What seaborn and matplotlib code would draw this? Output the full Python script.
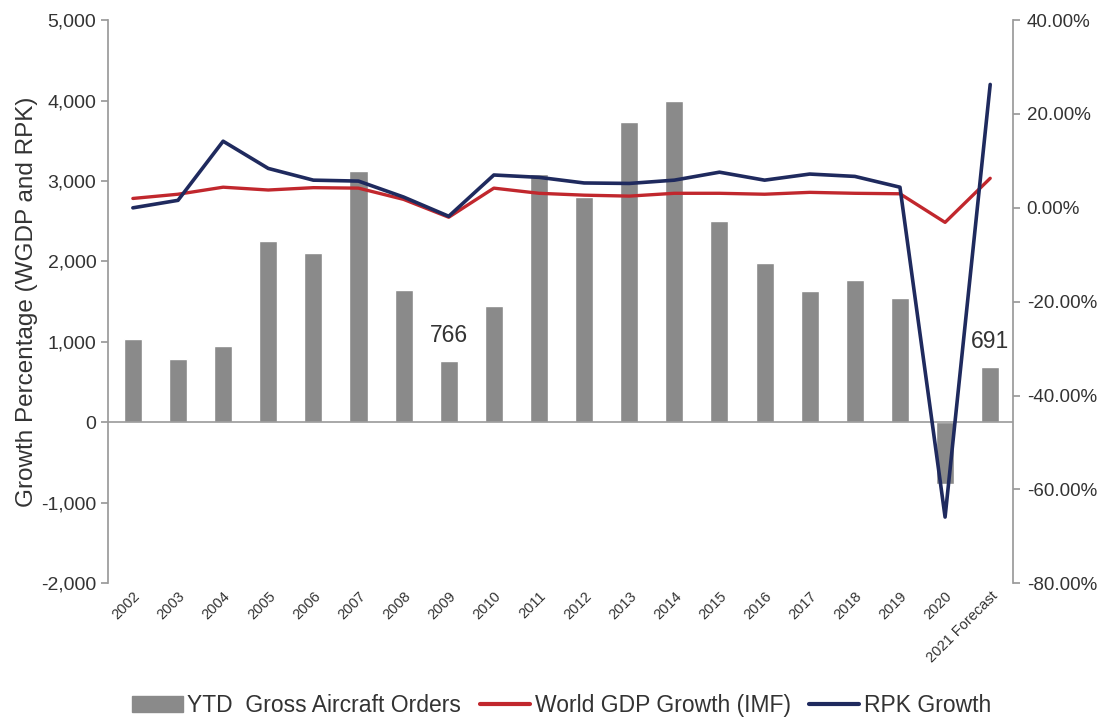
import numpy as np
import pandas as pd
import seaborn as sns
import matplotlib.pyplot as plt
from matplotlib.patches import Patch
from matplotlib.lines import Line2D
from matplotlib.ticker import FuncFormatter, StrMethodFormatter

years = ['2002', '2003', '2004', '2005', '2006', '2007', '2008', '2009', '2010', '2011',
         '2012', '2013', '2014', '2015', '2016', '2017', '2018', '2019', '2020', '2021 Forecast']
orders = [1040, 790, 950, 2260, 2110, 3120, 1640, 766, 1450, 3090,
          2800, 3740, 3990, 2500, 1980, 1630, 1770, 1550, -770, 691]
gdp_growth = [2.0, 2.9, 4.4, 3.8, 4.3, 4.2, 1.8, -2.0, 4.2, 3.1,
              2.7, 2.5, 3.1, 3.1, 2.9, 3.3, 3.1, 3.0, -3.1, 6.3]
rpk_growth = [0.0, 1.6, 14.2, 8.4, 5.9, 5.7, 2.3, -1.8, 7.0, 6.5,
              5.3, 5.2, 5.9, 7.6, 5.9, 7.2, 6.7, 4.4, -65.9, 26.3]
labelled = {'2009': '766', '2021 Forecast': '691'}

sns.set_theme(style="white")
plt.rcParams['font.family'] = ['Liberation Sans', 'DejaVu Sans']
plt.rcParams['axes.unicode_minus'] = False

bar_color = '#8a8a8a'
gdp_color = '#c1272d'
rpk_color = '#1f2a5e'
axis_color = '#9a9a9a'
text_color = '#333333'

df = pd.DataFrame({'year': years, 'orders': orders,
                   'gdp': gdp_growth, 'rpk': rpk_growth})
df['pos'] = np.arange(len(df))

fig = plt.figure(figsize=(11.06, 7.2), dpi=100)
ax = fig.add_axes([0.0977, 0.19, 0.818, 0.782])

sns.barplot(data=df, x='year', y='orders', color=bar_color, width=0.4,
            saturation=1, ax=ax)
ax.set_ylim(-2000, 5000)
ax.set_xlim(-0.55, len(years) - 0.5)
ax.yaxis.set_major_formatter(StrMethodFormatter('{x:,.0f}'))
ax.axhline(0, color=axis_color, lw=1.2, zorder=1)
ax.set_xlabel('')
ax.set_ylabel('Growth Percentage (WGDP and RPK)', fontsize=17.5, color=text_color,
              labelpad=2)
ax.set_xticks(df['pos'])
ax.set_xticklabels(years, rotation=45, ha='right', rotation_mode='anchor',
                   fontsize=10.5, color=text_color)
ax.tick_params(axis='x', length=0, pad=4)
ax.tick_params(axis='y', labelsize=14, labelcolor=text_color, length=5,
               color=axis_color, left=True)

for name, txt in labelled.items():
    i = years.index(name)
    ax.text(i, orders[i] + 170, txt, ha='center', va='bottom', fontsize=16.5,
            color=text_color)

ax2 = ax.twinx()
sns.lineplot(data=df, x='pos', y='gdp', color=gdp_color, lw=2.4, ax=ax2)
sns.lineplot(data=df, x='pos', y='rpk', color=rpk_color, lw=2.6, ax=ax2)
ax2.set_ylim(-80, 40)
ax2.set_yticks(np.arange(-80, 41, 20))
ax2.yaxis.set_major_formatter(FuncFormatter(lambda v, p: f'{v:.2f}%'))
ax2.set_ylabel('')
ax2.tick_params(axis='y', labelsize=13.5, labelcolor=text_color, length=5,
                color=axis_color, right=True, pad=5)

for a in (ax, ax2):
    for side in ('top', 'bottom'):
        a.spines[side].set_visible(False)
    a.spines['left'].set_color(axis_color)
    a.spines['right'].set_color(axis_color)
ax.spines['right'].set_visible(False)
ax2.spines['left'].set_visible(False)

handles = [Patch(color=bar_color),
           Line2D([], [], color=gdp_color, lw=3),
           Line2D([], [], color=rpk_color, lw=3)]
names = ['YTD  Gross Aircraft Orders', 'World GDP Growth (IMF)', 'RPK Growth']
fig.legend(handles, names, loc='center', bbox_to_anchor=(0.508, 0.02), ncol=3,
           frameon=False, fontsize=16.5, handlelength=2.2, handletextpad=0.2,
           columnspacing=0.8, labelcolor=text_color)

fig.savefig('out.png', dpi=100)
